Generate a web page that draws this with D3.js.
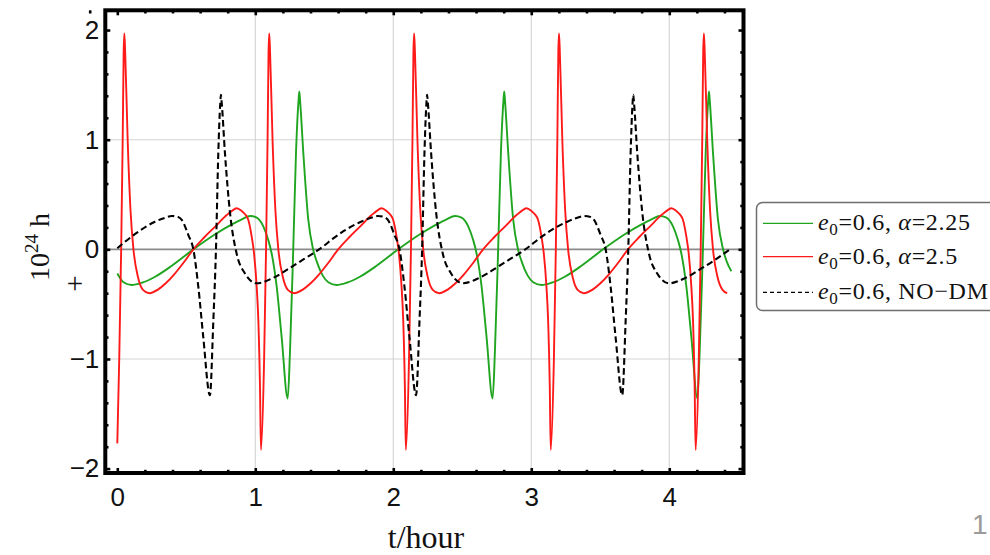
<!DOCTYPE html>
<html>
<head>
<meta charset="utf-8">
<script src="https://cdn.jsdelivr.net/npm/d3@7"></script>
<style>
  html, body { margin: 0; padding: 0; background: #fff; }
  svg { display: block; }
</style>
</head>
<body>
<svg id="chart" width="990" height="555"></svg>
<script>
// h+ waveform (units of 1e-24) versus time in hours, three orbit models
const greenSeries = [
  [0.000,-0.22],[0.045,-0.30],[0.105,-0.325],[0.178,-0.305],[0.274,-0.25],[0.395,-0.15],[0.552,0.00],[0.709,0.137],[0.830,0.228],[0.902,0.274],[0.963,0.304],
  [1.010,0.29],[1.058,0.21],[1.094,0.085],[1.119,-0.04],[1.155,-0.34],[1.191,-0.80],[1.235,-1.36],[1.251,-0.95],[1.275,0.00],[1.295,0.88],[1.313,1.35],[1.319,1.44],[1.325,1.35],[1.348,0.88],[1.384,0.27],[1.419,0.00],[1.445,-0.11],[1.489,-0.24],[1.529,-0.30],[1.589,-0.325],[1.662,-0.305],[1.758,-0.25],[1.879,-0.15],[2.036,0.00],[2.193,0.137],[2.314,0.228],[2.386,0.274],[2.447,0.304],
  [2.495,0.29],[2.543,0.21],[2.579,0.085],[2.604,-0.04],[2.640,-0.34],[2.676,-0.80],[2.720,-1.36],[2.736,-0.95],[2.760,0.00],[2.780,0.88],[2.798,1.35],[2.804,1.44],[2.810,1.35],[2.833,0.88],[2.869,0.27],[2.904,0.00],[2.930,-0.11],[2.974,-0.24],[3.014,-0.30],[3.074,-0.325],[3.147,-0.305],[3.243,-0.25],[3.364,-0.15],[3.521,0.00],[3.678,0.137],[3.799,0.228],[3.871,0.274],[3.932,0.304],
  [3.979,0.29],[4.027,0.21],[4.063,0.085],[4.088,-0.04],[4.124,-0.34],[4.160,-0.80],[4.204,-1.36],[4.220,-0.95],[4.244,0.00],[4.264,0.88],[4.282,1.35],[4.288,1.44],[4.294,1.35],[4.317,0.88],[4.353,0.27],[4.390,0.00],[4.416,-0.11],[4.450,-0.20]
];

const redSeries = [
  [0.000,-1.77],[0.014,-1.00],[0.028,0.00],[0.039,1.00],[0.046,1.80],[0.051,1.97],[0.057,1.80],[0.075,1.00],[0.096,0.35],[0.117,0.00],[0.151,-0.26],[0.186,-0.37],[0.231,-0.40],[0.297,-0.365],[0.351,-0.31],[0.411,-0.23],[0.481,-0.12],[0.551,0.00],[0.631,0.11],[0.711,0.21],[0.791,0.31],[0.841,0.36],[0.865,0.374],
  [0.901,0.35],[0.926,0.32],[0.949,0.27],[0.974,0.115],[0.991,-0.04],[1.010,-0.34],[1.022,-0.645],[1.034,-1.25],[1.041,-1.83],[1.064,-1.00],[1.078,0.00],[1.089,1.00],[1.096,1.80],[1.101,1.97],[1.107,1.80],[1.125,1.00],[1.146,0.35],[1.167,0.00],[1.201,-0.26],[1.236,-0.37],[1.281,-0.40],[1.347,-0.365],[1.401,-0.31],[1.461,-0.23],[1.531,-0.12],[1.601,0.00],[1.681,0.11],[1.761,0.21],[1.841,0.31],[1.891,0.36],[1.915,0.374],
  [1.951,0.35],[1.976,0.32],[1.999,0.27],[2.024,0.115],[2.041,-0.04],[2.060,-0.34],[2.072,-0.645],[2.084,-1.25],[2.091,-1.83],[2.114,-1.00],[2.128,0.00],[2.139,1.00],[2.146,1.80],[2.151,1.97],[2.157,1.80],[2.175,1.00],[2.196,0.35],[2.217,0.00],[2.251,-0.26],[2.286,-0.37],[2.331,-0.40],[2.397,-0.365],[2.451,-0.31],[2.511,-0.23],[2.581,-0.12],[2.651,0.00],[2.731,0.11],[2.811,0.21],[2.891,0.31],[2.941,0.36],[2.965,0.374],
  [3.001,0.35],[3.026,0.32],[3.049,0.27],[3.074,0.115],[3.091,-0.04],[3.110,-0.34],[3.122,-0.645],[3.134,-1.25],[3.141,-1.83],[3.164,-1.00],[3.178,0.00],[3.189,1.00],[3.196,1.80],[3.201,1.97],[3.207,1.80],[3.225,1.00],[3.246,0.35],[3.267,0.00],[3.301,-0.26],[3.336,-0.37],[3.381,-0.40],[3.447,-0.365],[3.501,-0.31],[3.561,-0.23],[3.631,-0.12],[3.701,0.00],[3.781,0.11],[3.861,0.21],[3.941,0.31],[3.991,0.36],[4.015,0.374],
  [4.051,0.35],[4.076,0.32],[4.099,0.27],[4.124,0.115],[4.141,-0.04],[4.160,-0.34],[4.172,-0.645],[4.184,-1.25],[4.191,-1.83],[4.214,-1.00],[4.228,0.00],[4.239,1.00],[4.246,1.80],[4.251,1.97],[4.257,1.80],[4.275,1.00],[4.296,0.35],[4.317,0.00],[4.351,-0.26],[4.386,-0.37],[4.420,-0.40]
];

const noDmSeries = [
  [0.000,0.01],[0.151,0.16],[0.273,0.252],[0.351,0.29],[0.394,0.304],[0.441,0.295],[0.467,0.268],[0.515,0.13],[0.551,0.00],[0.587,-0.34],[0.623,-0.80],[0.671,-1.33],[0.696,-0.65],[0.715,0.00],[0.732,0.88],[0.746,1.33],[0.751,1.41],[0.757,1.33],[0.780,0.88],[0.817,0.33],[0.865,-0.04],[0.925,-0.22],[1.010,-0.31],[1.130,-0.26],[1.251,-0.17],[1.351,-0.09],[1.451,-0.01],[1.495,0.03],[1.565,0.10],[1.645,0.17],[1.767,0.252],[1.845,0.29],[1.888,0.304],
  [1.935,0.295],[1.961,0.268],[2.009,0.13],[2.045,0.00],[2.081,-0.34],[2.117,-0.80],[2.165,-1.33],[2.190,-0.65],[2.209,0.00],[2.226,0.88],[2.240,1.33],[2.245,1.41],[2.251,1.33],[2.274,0.88],[2.311,0.33],[2.359,-0.04],[2.419,-0.22],[2.504,-0.31],[2.624,-0.26],[2.745,-0.17],[2.845,-0.09],[2.945,-0.01],[2.989,0.03],[3.059,0.10],[3.139,0.17],[3.261,0.252],[3.339,0.29],[3.382,0.304],
  [3.429,0.295],[3.455,0.268],[3.503,0.13],[3.539,0.00],[3.575,-0.34],[3.611,-0.80],[3.659,-1.33],[3.684,-0.65],[3.703,0.00],[3.720,0.88],[3.734,1.33],[3.739,1.41],[3.745,1.33],[3.768,0.88],[3.805,0.33],[3.853,-0.04],[3.913,-0.22],[3.998,-0.31],[4.118,-0.26],[4.239,-0.17],[4.339,-0.09],[4.440,0.00]
];

const xMajorTicks = [0, 1, 2, 3, 4];
const xMinorTicks = [-0.2, 0.2, 0.4, 0.6, 0.8, 1.2, 1.4, 1.6, 1.8, 2.2, 2.4, 2.6, 2.8, 3.2, 3.4, 3.6, 3.8, 4.2, 4.4];
const yMajorTicks = [-2, -1, 0, 1, 2];
const yMinorTicks = [-1.8, -1.6, -1.4, -1.2, -0.8, -0.6, -0.4, -0.2, 0.2, 0.4, 0.6, 0.8, 1.2, 1.4, 1.6, 1.8];
const xGridLines = [1, 2, 3, 4];
const yGridLines = [-1, 1];

const legendLabels = [
  { e: "0.6", tail: ["α", "=2.25"] },
  { e: "0.6", tail: ["α", "=2.5"] },
  { e: "0.6", tail: ["", "NO−DM"] }
];

const seriesStyles = [
  { data: greenSeries, color: "#1fa51f", width: 1.9, dash: null },
  { data: redSeries, color: "#ff1a1a", width: 1.9, dash: null },
  { data: noDmSeries, color: "#000000", width: 2.1, dash: "6.5,3.5" }
];

const svg = d3.select("#chart");

const frame = { left: 105.3, right: 743.5, top: 10.3, bottom: 473 };
const x = d3.scaleLinear().domain([-0.087, 4.538]).range([frame.left, frame.right]);
const y = d3.scaleLinear().domain([-2.04, 2.18]).range([frame.bottom, frame.top]);

svg.append("defs").append("clipPath").attr("id", "plotClip")
  .append("rect")
  .attr("x", frame.left).attr("y", frame.top)
  .attr("width", frame.right - frame.left).attr("height", frame.bottom - frame.top);

// grid
const grid = svg.append("g");
grid.selectAll("line.gx").data(xGridLines).join("line")
  .attr("x1", d => x(d)).attr("x2", d => x(d))
  .attr("y1", frame.top).attr("y2", frame.bottom)
  .attr("stroke", "#d3d3d3").attr("stroke-width", 1.1);
grid.selectAll("line.gy").data(yGridLines).join("line")
  .attr("x1", frame.left).attr("x2", frame.right)
  .attr("y1", d => y(d)).attr("y2", d => y(d))
  .attr("stroke", "#d3d3d3").attr("stroke-width", 1.1);
grid.append("line")
  .attr("x1", frame.left).attr("x2", frame.right)
  .attr("y1", y(0)).attr("y2", y(0))
  .attr("stroke", "#8a8a8a").attr("stroke-width", 1.6);

// curves
const line = d3.line().x(d => x(d[0])).y(d => y(d[1])).curve(d3.curveMonotoneX);
const curves = svg.append("g").attr("clip-path", "url(#plotClip)");
seriesStyles.forEach(s => {
  curves.append("path")
    .attr("d", line(s.data))
    .attr("fill", "none")
    .attr("stroke", s.color)
    .attr("stroke-width", s.width)
    .attr("stroke-linejoin", "round")
    .attr("stroke-dasharray", s.dash);
});

// frame ticks (inward on all four sides)
function tickAxis(axisFn, scale, values, size, transform, labels) {
  const ax = axisFn(scale).tickValues(values).tickSize(-size)
    .tickFormat(labels ? (d => d < 0 ? "−" + Math.abs(d) : String(d)) : "");
  const g = svg.append("g").attr("transform", transform).call(ax);
  g.select(".domain").remove();
  g.selectAll(".tick line").attr("stroke", "#000").attr("stroke-width", 2.6);
  return g;
}
const bx = tickAxis(d3.axisBottom, x, xMajorTicks, 5, `translate(0,${frame.bottom})`, true);
bx.call(a => a.selectAll("text").attr("y", 15));
tickAxis(d3.axisBottom, x, xMinorTicks, 3.2, `translate(0,${frame.bottom})`, false);
tickAxis(d3.axisTop, x, xMajorTicks, 5, `translate(0,${frame.top})`, false);
tickAxis(d3.axisTop, x, xMinorTicks, 3.2, `translate(0,${frame.top})`, false);
const ly = tickAxis(d3.axisLeft, y, yMajorTicks, 5, `translate(${frame.left},0)`, true);
ly.call(a => a.selectAll("text").attr("x", -6));
tickAxis(d3.axisLeft, y, yMinorTicks, 3.2, `translate(${frame.left},0)`, false);
tickAxis(d3.axisRight, y, yMajorTicks, 5, `translate(${frame.right},0)`, false);
tickAxis(d3.axisRight, y, yMinorTicks, 3.2, `translate(${frame.right},0)`, false);

svg.selectAll(".tick text")
  .attr("font-family", "'Liberation Sans', Arial, sans-serif")
  .attr("font-size", 26)
  .attr("fill", "#111");

// frame
svg.append("rect")
  .attr("x", frame.left).attr("y", frame.top)
  .attr("width", frame.right - frame.left).attr("height", frame.bottom - frame.top)
  .attr("fill", "none").attr("stroke", "#000").attr("stroke-width", 4);

// axis titles
const serif = "'Liberation Serif', 'Times New Roman', serif";
svg.append("text")
  .attr("x", 426).attr("y", 548)
  .attr("text-anchor", "middle")
  .attr("font-family", serif).attr("font-size", 32).attr("fill", "#111")
  .text("t/hour");

const yt = svg.append("text")
  .attr("transform", "translate(49,247) rotate(-90)")
  .attr("text-anchor", "middle")
  .attr("font-family", serif).attr("font-size", 28).attr("fill", "#111");
yt.append("tspan").text("10");
yt.append("tspan").attr("font-size", 19).attr("dy", -11).text("24");
yt.append("tspan").attr("dy", 11).text(" h");

svg.append("text")
  .attr("x", 75).attr("y", 293)
  .attr("text-anchor", "middle")
  .attr("font-family", serif).attr("font-size", 29).attr("fill", "#111")
  .text("+");

// legend
const legend = svg.append("g");
legend.append("rect")
  .attr("x", 756.5).attr("y", 202.5).attr("width", 260).attr("height", 108)
  .attr("rx", 6).attr("ry", 6)
  .attr("fill", "#fff").attr("stroke", "#6e6e6e").attr("stroke-width", 1.5);
const rowY = [223.3, 256.7, 292.3];
legendLabels.forEach((lab, i) => {
  const s = seriesStyles[i];
  legend.append("line")
    .attr("x1", 763).attr("x2", 813)
    .attr("y1", rowY[i]).attr("y2", rowY[i])
    .attr("stroke", s.color).attr("stroke-width", 1.2)
    .attr("stroke-dasharray", s.dash ? "4,3" : null);
  const t = legend.append("text")
    .attr("x", 818).attr("y", rowY[i] + 7)
    .attr("font-family", serif).attr("font-size", 24).attr("fill", "#111")
    .attr("letter-spacing", 0.7);
  t.append("tspan").attr("font-style", "italic").text("e");
  t.append("tspan").attr("font-size", 17).attr("dy", 5).text("0");
  t.append("tspan").attr("dy", -5).text("=" + lab.e + ", ");
  if (lab.tail[0]) t.append("tspan").attr("font-style", "italic").text(lab.tail[0]);
  t.append("tspan").text(lab.tail[1]);
});

// page number at the lower right
svg.append("text")
  .attr("x", 972).attr("y", 534)
  .attr("font-family", "'Liberation Sans', Arial, sans-serif")
  .attr("font-size", 28).attr("fill", "#9a9a9a")
  .text("1");
</script>
</body>
</html>
